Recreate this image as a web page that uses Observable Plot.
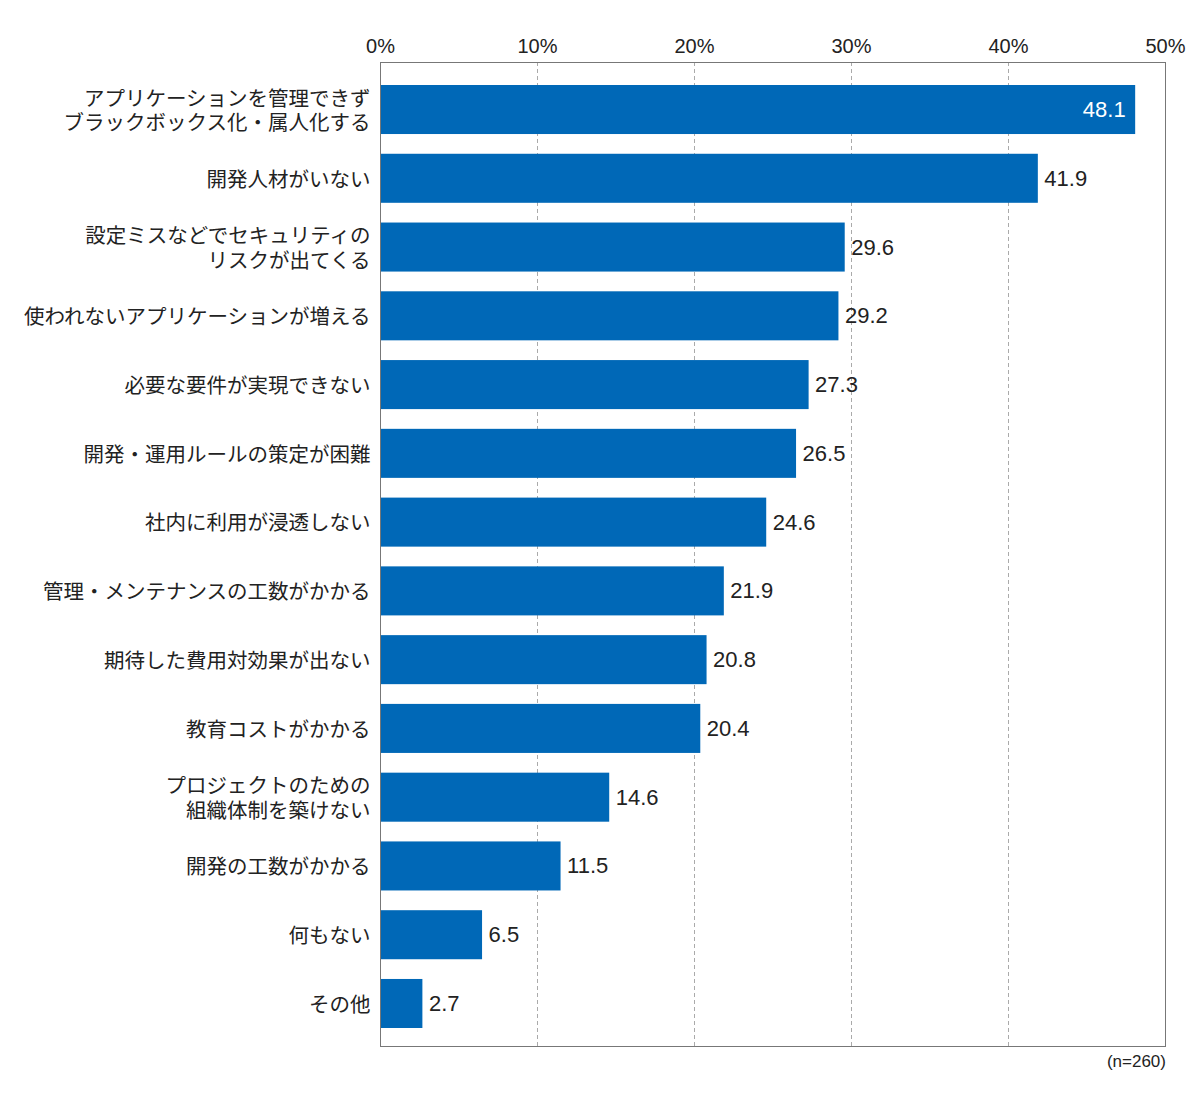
<!DOCTYPE html>
<html><head><meta charset="utf-8">
<script src="https://cdn.jsdelivr.net/npm/d3@7"></script>
<script src="https://cdn.jsdelivr.net/npm/@observablehq/plot@0.6"></script>
<style>
body{margin:0;background:#fff;font-family:"Noto Sans CJK JP",sans-serif;}
#cap{width:1166px;text-align:right;font-family:"Liberation Sans",sans-serif;font-size:17px;color:#222;margin-top:2px;}
</style>
</head><body>
<div id="chart"></div>
<div id="cap">(n=260)</div>
<script>
const categories = [
  "アプリケーションを管理できず\nブラックボックス化・属人化する",
  "開発人材がいない",
  "設定ミスなどでセキュリティの\nリスクが出てくる",
  "使われないアプリケーションが増える",
  "必要な要件が実現できない",
  "開発・運用ルールの策定が困難",
  "社内に利用が浸透しない",
  "管理・メンテナンスの工数がかかる",
  "期待した費用対効果が出ない",
  "教育コストがかかる",
  "プロジェクトのための\n組織体制を築けない",
  "開発の工数がかかる",
  "何もない",
  "その他"
];
const values = [48.1, 41.9, 29.6, 29.2, 27.3, 26.5, 24.6, 21.9, 20.8, 20.4, 14.6, 11.5, 6.5, 2.7];
const xTicks = [0, 10, 20, 30, 40, 50];
const gridTicks = [10, 20, 30, 40];

const data = categories.map((c, i) => ({c, v: values[i]}));
const inside = data.filter(d => d.v >= 45);
const outside = data.filter(d => d.v < 45);

const chart = Plot.plot({
  width: 1200,
  height: 1050,
  marginLeft: 380,
  marginRight: 35,
  marginTop: 62,
  marginBottom: 4,
  style: {fontFamily: "'Noto Sans CJK JP', sans-serif", fontSize: "20px", color: "#222", background: "#fff"},
  x: {domain: [0, 50]},
  y: {domain: categories, range: [85, 1028], paddingInner: 0.287, paddingOuter: 0, round: false},
  marks: [
    Plot.gridX(gridTicks, {stroke: "#aaa", strokeOpacity: 1, strokeDasharray: "4,3"}),
    Plot.barX(data, {x: "v", y: "c", fill: "#0068b7"}),
    Plot.frame({stroke: "#777", strokeWidth: 1}),
    Plot.axisX(xTicks, {anchor: "top", tickSize: 0, tickPadding: 10, tickFormat: d => d + "%", label: null, fontSize: 20, fontFamily: "'Liberation Sans', sans-serif"}),
    Plot.axisY({tickSize: 0, tickPadding: 10, label: null, fontSize: 20.5, lineHeight: 1.2}),
    Plot.text(outside, {x: "v", y: "c", text: d => d.v.toFixed(1), textAnchor: "start", dx: 6, fill: "#222", fontSize: 22, fontFamily: "'Liberation Sans', sans-serif"}),
    Plot.text(inside, {x: "v", y: "c", text: d => d.v.toFixed(1), textAnchor: "end", dx: -10, fill: "#fff", fontSize: 22, fontFamily: "'Liberation Sans', sans-serif"})
  ]
});
document.getElementById("chart").appendChild(chart);
</script>
</body></html>
